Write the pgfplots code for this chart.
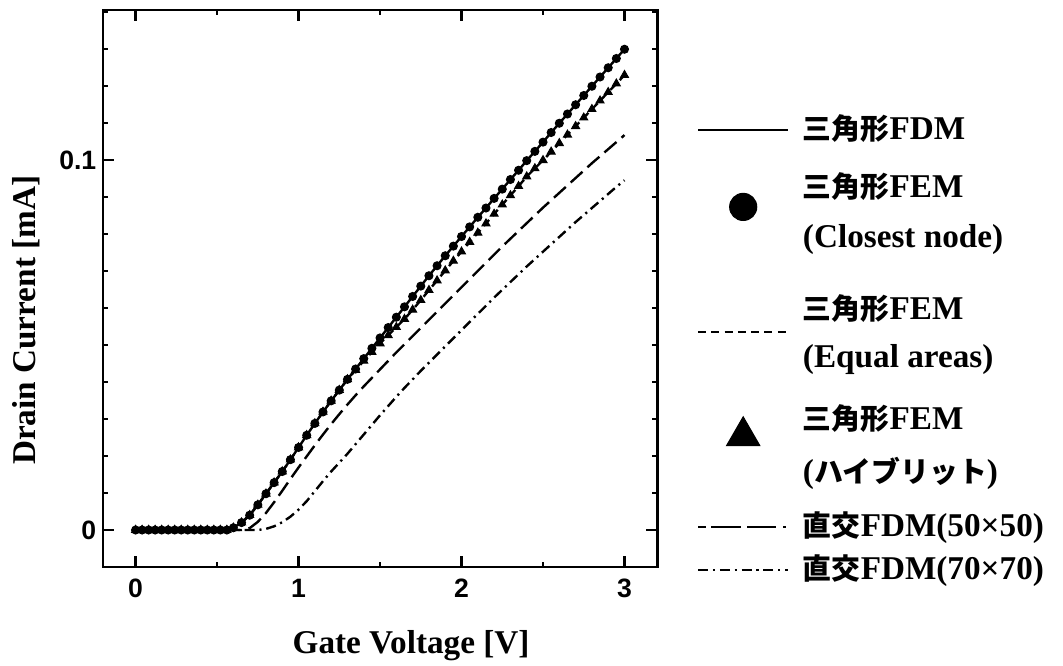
\documentclass[border=0pt]{standalone}
\usepackage{fontspec}
\setmainfont{Liberation Serif}
\newfontfamily\cjk{Noto Sans CJK JP}[Scale=0.87]
\newfontfamily\tickfont{Liberation Sans}
\usepackage{pgfplots}
\usepackage{pgfplotstable}
\pgfplotsset{compat=1.18}

\newcommand{\J}[1]{{\cjk\bfseries #1}}

% x, tri-FDM / FEM closest node (C), FEM hybrid (T), orth. 50x50 (D), orth. 70x70 (E)
\pgfplotstableread{
x C T D E
0.00 0 0 0 0
0.04 0 0 0 0
0.08 0 0 0 0
0.12 0 0 0 0
0.16 0 0 0 0
0.20 0 0 0 0
0.24 0 0 0 0
0.28 0 0 0 0
0.32 0 0 0 0
0.36 0 0 0 0
0.40 0 0 0 0
0.44 0 0 0 0
0.48 0 0 0 0
0.52 0 0 0 0
0.56 0 0 0 0
0.60 0.0006 0.0006 0 0
0.65 0.0020 0.0020 0 0
0.70 0.0040 0.0040 0.0005 0
0.75 0.0068 0.0068 0.0022 0
0.80 0.0098 0.0098 0.0046 0.0003
0.85 0.0128 0.0128 0.0075 0.0010
0.90 0.0158 0.0158 0.0106 0.0021
0.95 0.0190 0.0190 0.0138 0.0036
1.00 0.0223 0.0223 0.0169 0.0055
1.05 0.0256 0.0256 0.0199 0.0078
1.10 0.0288 0.0288 0.0229 0.0105
1.15 0.0319 0.0319 0.0258 0.0132
1.20 0.0349 0.0349 0.0286 0.0158
1.25 0.0378 0.0378 0.0313 0.0182
1.30 0.0407 0.0407 0.0339 0.0206
1.35 0.0435 0.0432 0.0364 0.0232
1.40 0.0463 0.0457 0.0388 0.0258
1.45 0.0491 0.0481 0.0411 0.0284
1.50 0.0519 0.0504 0.0434 0.0310
1.55 0.0547 0.0526 0.0457 0.0335
1.60 0.0575 0.0548 0.0480 0.0360
1.65 0.0603 0.0570 0.0502 0.0384
1.70 0.0631 0.0595 0.0524 0.0407
1.75 0.0659 0.0621 0.0546 0.0430
1.80 0.0687 0.0648 0.0568 0.0452
1.85 0.0714 0.0674 0.0590 0.0474
1.90 0.0741 0.0701 0.0612 0.0496
1.95 0.0767 0.0727 0.0634 0.0518
2.00 0.0793 0.0752 0.0656 0.0540
2.05 0.0819 0.0778 0.0678 0.0562
2.10 0.0845 0.0803 0.0700 0.0584
2.15 0.0870 0.0828 0.0722 0.0606
2.20 0.0896 0.0854 0.0744 0.0628
2.25 0.0921 0.0879 0.0766 0.0649
2.30 0.0947 0.0904 0.0787 0.0670
2.35 0.0972 0.0929 0.0808 0.0691
2.40 0.0998 0.0955 0.0829 0.0712
2.45 0.1023 0.0977 0.0850 0.0732
2.50 0.1048 0.0999 0.0871 0.0752
2.55 0.1074 0.1022 0.0891 0.0772
2.60 0.1099 0.1045 0.0911 0.0792
2.65 0.1124 0.1068 0.0931 0.0812
2.70 0.1149 0.1091 0.0951 0.0832
2.75 0.1174 0.1114 0.0971 0.0851
2.80 0.1199 0.1137 0.0991 0.0870
2.85 0.1224 0.1160 0.1010 0.0889
2.90 0.1249 0.1183 0.1029 0.0908
2.95 0.1274 0.1206 0.1048 0.0927
3.00 0.1299 0.1229 0.1067 0.0945
}\ivdata

\pgfplotsset{
  limg/.style={legend image code/.code={\pgfpathrectangle{\pgfpoint{0pt}{-1pt}}{\pgfpoint{34pt}{2pt}}\pgfusepath{discard}%
      \draw[##1,overlay] (0pt,#1) -- (34pt,#1);}},
  mimg/.style 2 args={legend image code/.code={\pgfpathrectangle{\pgfpoint{0pt}{-1pt}}{\pgfpoint{34pt}{2pt}}\pgfusepath{discard}%
      \draw[##1,overlay,mark size=#1] plot coordinates {(17pt,#2)};}},
  eimg/.style={legend image code/.code={\pgfpathrectangle{\pgfpoint{0pt}{-1pt}}{\pgfpoint{34pt}{2pt}}\pgfusepath{discard}}},
  % one hidden axis per legend line, so every line sits where it should
  legbox/.style={hide axis, scale only axis, width=100pt, height=100pt,
    xmin=0, xmax=1, ymin=0, ymax=1, at={(0pt,0pt)}, anchor=south west,
    legend cell align=left,
    legend style={draw=none, fill=none, inner sep=0pt, outer sep=0pt,
      at={#1}, anchor=west,
      font=\bfseries\fontsize{12.5}{15}\selectfont,
      nodes={inner sep=0pt, outer sep=0pt, text height=9pt, text depth=2pt},
      /tikz/column sep=5.5pt}},
}

\begin{document}
\begin{tikzpicture}
\path[use as bounding box] (-38.76pt,-36.88pt) rectangle (361.24pt,213.36pt);
\begin{axis}[
  at={(0pt,0pt)}, anchor=south west,
  scale only axis, width=208.5pt, height=209.6pt,
  xmin=-0.2, xmax=3.2, ymin=-0.01, ymax=0.1405,
  xtick={0,1,2,3}, xticklabels={0,1,2,3},
  minor xtick={0.5,1.5,2.5},
  ytick={0,0.1}, yticklabels={0,0.1},
  minor ytick={-0.01,0.01,0.02,0.03,0.04,0.05,0.06,0.07,0.08,0.09,0.11,0.12,0.13,0.14},
  scaled y ticks=false,
  tick pos=both, tick align=inside,
  major tick length=4.2pt, minor tick length=1.9pt,
  every tick/.style={black, line width=0.9pt},
  axis line style={line width=1.1pt},
  /pgf/number format/assume math mode=true,
  tick label style={font=\tickfont\bfseries\fontsize{10}{12}\selectfont},
  xticklabel style={yshift=-1pt},
  yticklabel style={xshift=1pt},
  label style={font=\bfseries\fontsize{12.5}{15}\selectfont},
  xlabel={Gate Voltage [V]},
  xlabel style={at={(axis description cs:0.556,0)}, anchor=center, yshift=-29.4pt},
  ylabel={Drain Current [mA]},
  ylabel style={at={(axis description cs:0,0.443)}, anchor=center, yshift=28.8pt},
]
% hybrid FEM markers first, so the circles sit on top where they coincide
\addplot[only marks, mark=triangle*, mark size=1.7pt, black]
  table[x=x, y=T] {\ivdata};
\addplot[black, line width=0.9pt] table[x=x, y=C] {\ivdata};
\addplot[only marks, mark=*, mark size=1.5pt, black]
  table[x=x, y=C] {\ivdata};
\addplot[black, line width=0.9pt, dash pattern=on 3pt off 2pt]
  table[x=x, y=T] {\ivdata};
\addplot[black, line width=0.9pt, dash pattern=on 6pt off 2.5pt]
  table[x=x, y=D] {\ivdata};
\addplot[black, line width=0.9pt, dash pattern=on 3.8pt off 1.8pt on 0.8pt off 1.8pt]
  table[x=x, y=E] {\ivdata};
\end{axis}

% legend, line by line
\begin{axis}[legbox={(2.239,1.644)}]
\addlegendimage{black, line width=0.9pt, limg=0pt}
\addlegendentry{\J{三角形}FDM}
\end{axis}
\begin{axis}[legbox={(2.239,1.426)}]
\addlegendimage{only marks, mark=*, black, mimg={5.1pt}{-7.1pt}}
\addlegendentry{\J{三角形}FEM}
\end{axis}
\begin{axis}[legbox={(2.239,1.238)}]
\addlegendimage{black, eimg}
\addlegendentry{(Closest node)}
\end{axis}
\begin{axis}[legbox={(2.239,0.967)}]
\addlegendimage{black, line width=0.9pt, dash pattern=on 3pt off 2pt, limg=-8.3pt}
\addlegendentry{\J{三角形}FEM}
\end{axis}
\begin{axis}[legbox={(2.239,0.786)}]
\addlegendimage{black, eimg}
\addlegendentry{(Equal areas)}
\end{axis}
\begin{axis}[legbox={(2.239,0.553)}]
\addlegendimage{only marks, mark=triangle*, black, mimg={7.2pt}{-6pt}}
\addlegendentry{\J{三角形}FEM}
\end{axis}
\begin{axis}[legbox={(2.239,0.354)}]
\addlegendimage{black, eimg}
\addlegendentry{(\J{ハイブリット})}
\end{axis}
\begin{axis}[legbox={(2.239,0.151)}]
\addlegendimage{black, line width=0.9pt, dash pattern=on 3pt off 2pt on 11pt off 2.5pt on 11pt off 2.5pt on 1.2pt off 10pt, limg=0pt}
\addlegendentry{\J{直交}FDM(50×50)}
\end{axis}
\begin{axis}[legbox={(2.239,-0.011)}]
\addlegendimage{black, line width=0.9pt, dash pattern=on 3.8pt off 1.8pt on 0.8pt off 1.8pt, limg=0pt}
\addlegendentry{\J{直交}FDM(70×70)}
\end{axis}
\end{tikzpicture}
\end{document}
